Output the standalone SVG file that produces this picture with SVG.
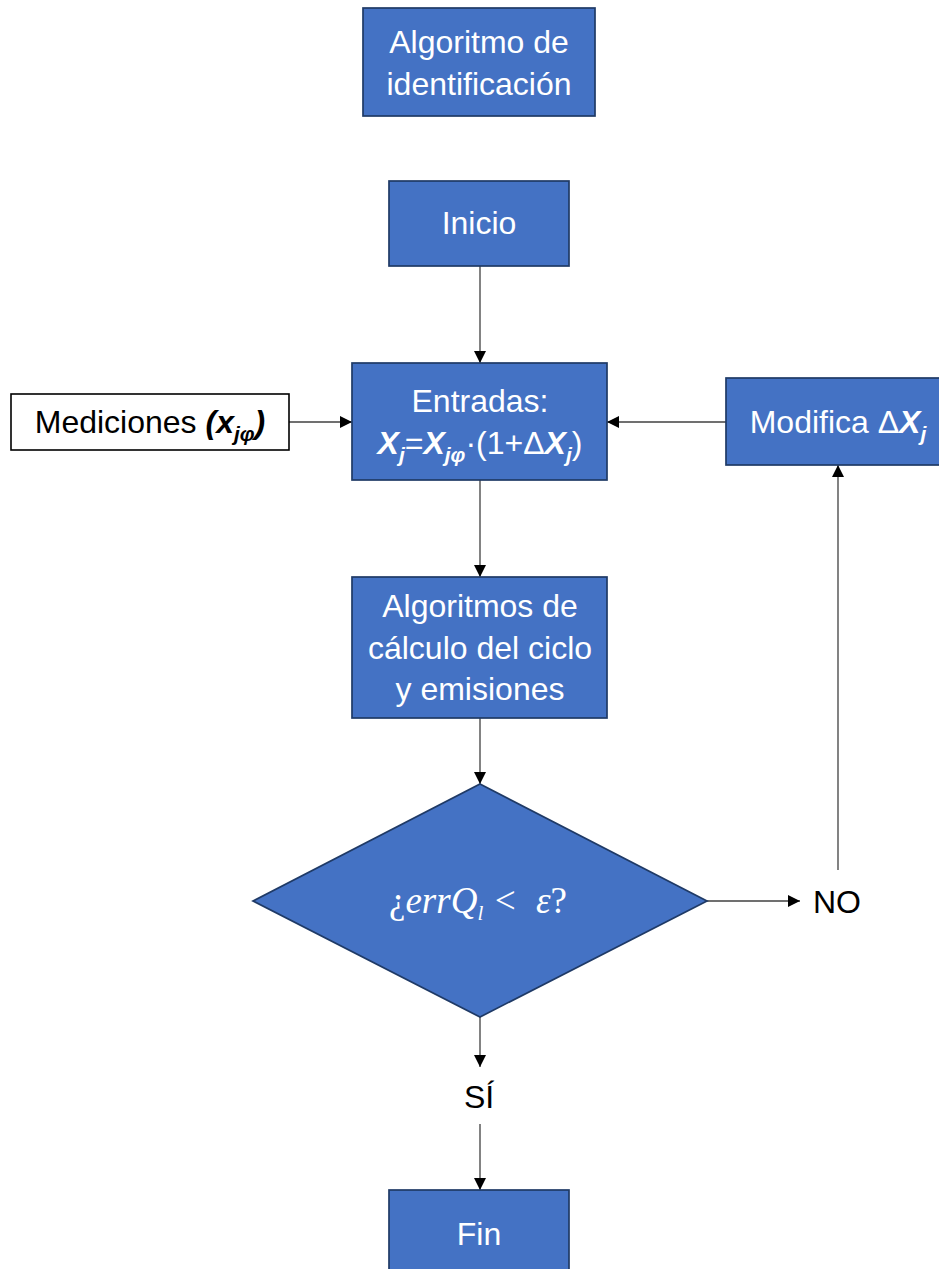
<svg xmlns="http://www.w3.org/2000/svg" width="939" height="1269" viewBox="0 0 939 1269">
<style>
.box{fill:#4472C4;stroke:#1F3A66;stroke-width:1.7}
.wbox{fill:#FFFFFF;stroke:#000000;stroke-width:1.6}
.t{font-family:"Liberation Sans",Arial,sans-serif;font-size:32px;fill:#FFFFFF;text-anchor:middle}
.k{fill:#000000}
.bi{font-weight:bold;font-style:italic}
.sub{font-size:21px}
.math{font-family:"Liberation Serif","Times New Roman",serif;font-style:italic;font-size:37px;fill:#FFFFFF;text-anchor:middle}
.up{font-style:normal}
.c{stroke:#404040;stroke-width:1.3;fill:none;marker-end:url(#ah)}
</style>
<defs>
<marker id="ah" viewBox="0 0 10 10" refX="10" refY="5" markerWidth="12" markerHeight="12" markerUnits="userSpaceOnUse" orient="auto">
<path d="M0,0 L10,5 L0,10 z" fill="#000000"/>
</marker>
</defs>
<rect width="939" height="1269" fill="#FFFFFF"/>
<g id="connectors">
<line class="c" x1="480" y1="266" x2="480" y2="363"/>
<line class="c" x1="289" y1="422" x2="352" y2="422"/>
<line class="c" x1="726" y1="422" x2="607" y2="422"/>
<line class="c" x1="480" y1="480" x2="480" y2="577"/>
<line class="c" x1="480" y1="718" x2="480" y2="784"/>
<line class="c" x1="707" y1="901" x2="800" y2="901"/>
<line class="c" x1="838" y1="870" x2="838" y2="465"/>
<line class="c" x1="480" y1="1017" x2="480" y2="1067"/>
<line class="c" x1="480" y1="1124" x2="480" y2="1190"/>
</g>
<g id="title">
<rect class="box" x="363" y="8" width="232" height="108"/>
<text class="t" x="479" y="53">Algoritmo de</text>
<text class="t" x="479" y="95">identificación</text>
</g>
<g id="inicio">
<rect class="box" x="389" y="181" width="180" height="85"/>
<text class="t" x="479" y="234">Inicio</text>
</g>
<g id="mediciones">
<rect class="wbox" x="11" y="394" width="278" height="56"/>
<text class="t k" x="150" y="433">Mediciones <tspan class="bi">(x</tspan><tspan class="bi sub" dy="8">jφ</tspan><tspan class="bi" dy="-8">)</tspan></text>
</g>
<g id="entradas">
<rect class="box" x="352" y="363" width="255" height="117"/>
<text class="t" x="480" y="412">Entradas:</text>
<text class="t" x="480" y="454"><tspan class="bi">X</tspan><tspan class="bi sub" dy="8">j</tspan><tspan dy="-8">=</tspan><tspan class="bi">X</tspan><tspan class="bi sub" dy="8">jφ</tspan><tspan dy="-8">·(1+Δ</tspan><tspan class="bi">X</tspan><tspan class="bi sub" dy="8">j</tspan><tspan dy="-8">)</tspan></text>
</g>
<g id="modifica">
<rect class="box" x="726" y="378" width="230" height="87"/>
<text class="t" x="838" y="433">Modifica Δ<tspan class="bi">X</tspan><tspan class="bi sub" dy="8">j</tspan></text>
</g>
<g id="algoritmos">
<rect class="box" x="352" y="577" width="255" height="141"/>
<text class="t" x="480" y="617">Algoritmos de</text>
<text class="t" x="480" y="659">cálculo del ciclo</text>
<text class="t" x="480" y="700">y emisiones</text>
</g>
<g id="decision">
<polygon class="box" points="480,784 707,901 480,1017 253,901"/>
<text class="math" x="478" y="913"><tspan class="up">¿</tspan>errQ<tspan class="sub" dy="7">l</tspan><tspan dy="-7" xml:space="preserve"> &lt;  ε</tspan><tspan class="up">?</tspan></text>
</g>
<g id="no">
<text class="t k" x="837" y="913">NO</text>
</g>
<g id="si">
<text class="t k" x="479" y="1108">SÍ</text>
</g>
<g id="fin">
<rect class="box" x="389" y="1190" width="180" height="90"/>
<text class="t" x="479" y="1245">Fin</text>
</g>
</svg>
